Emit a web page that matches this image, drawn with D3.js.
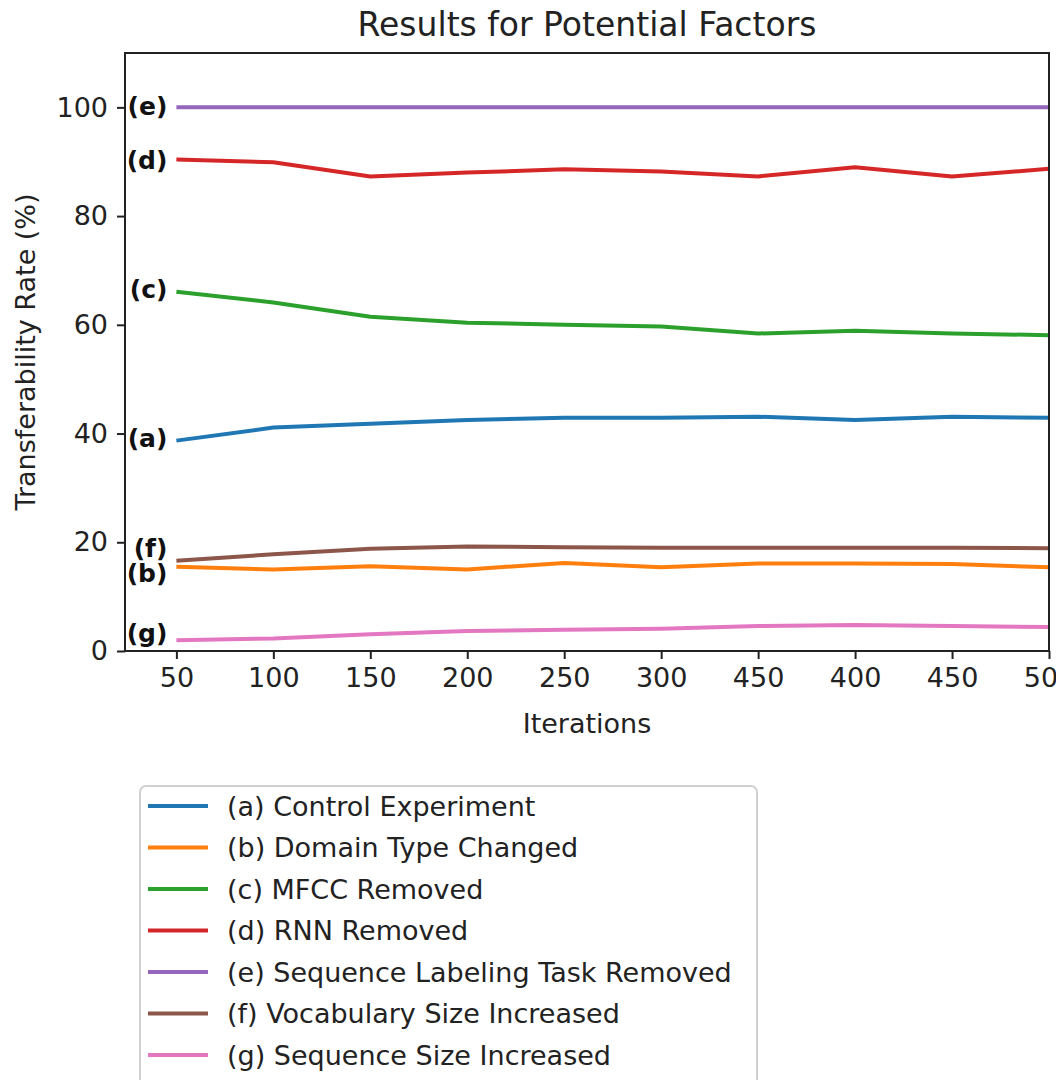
<!DOCTYPE html>
<html>
<head>
<meta charset="utf-8">
<script src="https://cdn.jsdelivr.net/npm/d3@7"></script>
<style>
  body { margin: 0; background: #fff; }
  text { font-family: "DejaVu Sans", sans-serif; fill: #222; }
</style>
</head>
<body>
<div id="chart"></div>
<script>
(function () {

  // tick labels along x, as printed on the original figure
  const iterations = ["50", "100", "150", "200", "250", "300", "450", "400", "450", "500"]

  const seriesNames = [
    "(a) Control Experiment",
    "(b) Domain Type Changed",
    "(c) MFCC Removed",
    "(d) RNN Removed",
    "(e) Sequence Labeling Task Removed",
    "(f) Vocabulary Size Increased",
    "(g) Sequence Size Increased"
  ]
  const tags = ["(a)", "(b)", "(c)", "(d)", "(e)", "(f)", "(g)"]

  const colors = ["#1f77b4", "#ff7f0e", "#2ca02c", "#d62728", "#9467bd", "#8c564b", "#e377c2"]

  const controlExp = [38.7, 41.1, 41.8, 42.5, 42.9, 42.9, 43.1, 42.5, 43.1, 42.9]
  const domainType = [15.5, 15.0, 15.6, 15.0, 16.2, 15.4, 16.1, 16.1, 16.0, 15.4]
  const mfccRemoved = [66.1, 64.1, 61.5, 60.4, 60.0, 59.7, 58.4, 58.9, 58.4, 58.1]
  const rnnRemoved = [90.4, 89.9, 87.3, 88.0, 88.6, 88.2, 87.3, 89.0, 87.3, 88.7]
  const seqLabeling = [100, 100, 100, 100, 100, 100, 100, 100, 100, 100]
  const vocabSize = [16.6, 17.8, 18.8, 19.2, 19.1, 19.0, 19.0, 19.0, 19.0, 18.9]
  const seqSize = [2.0, 2.3, 3.1, 3.7, 3.9, 4.1, 4.6, 4.8, 4.6, 4.4]

  // where the bold tags sit on the y axis (data units)
  const tagY = [39.2, 14.4, 66.5, 90.4, 100.2, 19.0, 3.3]

  const yTicks = [0, 20, 40, 60, 80, 100]

  const series = [controlExp, domainType, mfccRemoved, rnnRemoved, seqLabeling, vocabSize, seqSize]

  const margin = { top: 53, right: 11, bottom: 429, left: 125 }
  const fullW = 1060, fullH = 1080
  const width = fullW - margin.left - margin.right
  const height = fullH - margin.top - margin.bottom

  // figure edge sits a few px short of the window, so the last tick label is cut
  const svg = d3.select("#chart").append("svg")
      .attr("width", 1056)
      .attr("height", fullH)

  const g = svg.append("g")
      .attr("transform", "translate(" + margin.left + "," + margin.top + ")")

  const xPositionScale = d3.scaleLinear()
    .domain([-0.53, iterations.length - 1])
    .range([0, width])

  const yPositionScale = d3.scaleLinear()
    .domain([0, 110])
    .range([height, 0])

  const line = d3.line()
    .x((d, i) => xPositionScale(i))
    .y(d => yPositionScale(d))

  // the lines
  g.selectAll(".series")
    .data(series)
    .join("path")
    .attr("class", "series")
    .attr("d", d => line(d))
    .attr("fill", "none")
    .attr("stroke", (d, i) => colors[i])
    .attr("stroke-width", 4)
    .attr("stroke-linejoin", "round")

  // bold tags to the left of the first point
  g.selectAll(".tag")
    .data(tags)
    .join("text")
    .attr("class", "tag")
    .attr("x", xPositionScale(0) - 9)
    .attr("y", (d, i) => yPositionScale(tagY[i]))
    .attr("dy", "0.36em")
    .attr("text-anchor", "end")
    .style("font-weight", "bold")
    .style("font-size", "25px")
    .style("fill", "#111")
    .text(d => d)

  // axes
  const xAxis = d3.axisBottom(xPositionScale)
    .tickValues(d3.range(iterations.length))
    .tickFormat(i => iterations[i])
    .tickSize(8)
    .tickPadding(9)

  const yAxis = d3.axisLeft(yPositionScale)
    .tickValues(yTicks)
    .tickSize(8)
    .tickPadding(9)

  g.append("g")
    .attr("transform", "translate(0," + height + ")")
    .call(xAxis)
    .call(a => a.select(".domain").remove())

  g.append("g")
    .call(yAxis)
    .call(a => a.select(".domain").remove())

  g.selectAll(".tick text")
    .style("font-size", "27px")
    .style("font-family", "DejaVu Sans, sans-serif")
    .attr("fill", "#222")
  g.selectAll(".tick line")
    .attr("stroke", "#222")
    .attr("stroke-width", 2)

  // frame
  g.append("rect")
    .attr("width", width)
    .attr("height", height)
    .attr("fill", "none")
    .attr("stroke", "#222")
    .attr("stroke-width", 2)

  // title and axis labels
  svg.append("text")
    .attr("x", margin.left + width / 2)
    .attr("y", 36)
    .attr("text-anchor", "middle")
    .style("font-size", "33px")
    .text("Results for Potential Factors")

  svg.append("text")
    .attr("x", margin.left + width / 2)
    .attr("y", 733)
    .attr("text-anchor", "middle")
    .style("font-size", "27px")
    .text("Iterations")

  svg.append("text")
    .attr("transform", "translate(35," + (margin.top + height / 2) + ") rotate(-90)")
    .attr("text-anchor", "middle")
    .style("font-size", "27px")
    .text("Transferability Rate (%)")

  // legend
  const legend = svg.append("g")
    .attr("transform", "translate(140,786)")

  legend.append("rect")
    .attr("width", 617)
    .attr("height", 320)
    .attr("rx", 6)
    .attr("fill", "#fff")
    .attr("stroke", "#d0d0d0")
    .attr("stroke-width", 2)

  const rows = legend.selectAll(".row")
    .data(seriesNames)
    .join("g")
    .attr("class", "row")
    .attr("transform", (d, i) => "translate(0," + (20 + i * 41.5) + ")")

  rows.append("line")
    .attr("x1", 8)
    .attr("x2", 68)
    .attr("stroke", (d, i) => colors[i])
    .attr("stroke-width", 4)

  rows.append("text")
    .attr("x", 87)
    .attr("dy", "0.36em")
    .style("font-size", "27px")
    .text(d => d)

})();
</script>
</body>
</html>
